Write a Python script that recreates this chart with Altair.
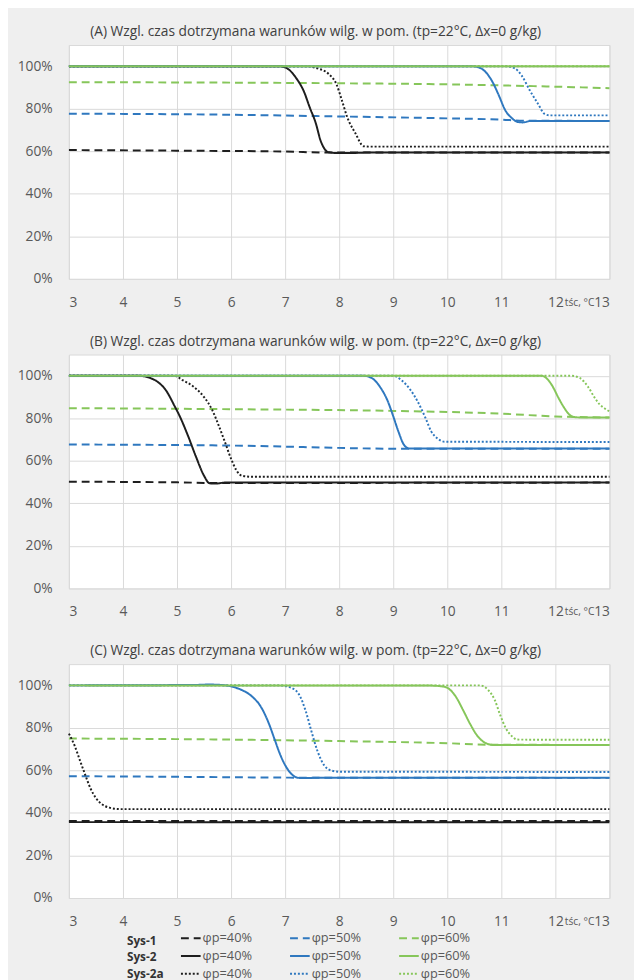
import altair as alt
import pandas as pd

# ---------------- data ----------------
X_TICKS = [3, 4, 5, 6, 7, 8, 9, 10, 11, 12, 13]
Y_TICKS = [0, 0.2, 0.4, 0.6, 0.8, 1.0]

PANEL_TITLES = [
    "(A) Wzgl. czas dotrzymana warunków wilg. w pom. (tp=22°C, Δx=0 g/kg)",
    "(B) Wzgl. czas dotrzymana warunków wilg. w pom. (tp=22°C, Δx=0 g/kg)",
    "(C) Wzgl. czas dotrzymana warunków wilg. w pom. (tp=22°C, Δx=0 g/kg)",
]
X_TITLE = "tśc, °C"

# legend order (filled column by column: Sys-1/Sys-2/Sys-2a for each φp)
SERIES_KEYS = ["S1-40", "S2-40", "S2a-40", "S1-50", "S2-50", "S2a-50", "S1-60", "S2-60", "S2a-60"]
SERIES_COLORS = ["#1e1e1e"] * 3 + ["#2f78bf"] * 3 + ["#86c65a"] * 3
SERIES_DASH = [[8, 5], [1, 0], [2, 2]] * 3
ROW_LABELS = ["Sys-1", "Sys-2", "Sys-2a"]

# (x = tśc in °C, y = % of time)
A_S1_40 = [(3, 60.6), (5, 60.3), (7, 59.9), (7.8, 59.4), (13, 59.4)]
A_S1_50 = [(3, 77.7), (6, 77.2), (8, 76.4), (10, 75.5), (11, 74.9), (11.4, 74.4), (13, 74.3)]
A_S1_60 = [(3, 92.5), (6, 92.3), (8, 92.0), (10, 91.5), (11, 91.0), (12, 90.4), (13, 89.7)]
A_S2_40 = [(3, 100), (6.9, 100), (7.05, 98.8), (7.2, 94.6), (7.35, 88), (7.45, 81), (7.57, 73),
           (7.65, 65.5), (7.72, 61.5), (7.8, 59.6), (7.95, 59.2), (8.2, 59.2), (8.5, 59.4), (13, 59.4)]
A_S2_50 = [(3, 100), (10.45, 100), (10.6, 99.3), (10.72, 97), (10.85, 92), (10.95, 86.5), (11.08, 79),
           (11.2, 75.5), (11.3, 73.8), (11.4, 73.6), (11.55, 74.3), (13, 74.3)]
A_S2_60 = [(3, 100), (13, 100)]
A_S2a_40 = [(3, 100), (7.4, 100), (7.6, 99), (7.8, 96.5), (7.95, 91.5), (8.05, 84), (8.15, 76),
            (8.3, 68.5), (8.45, 62.4), (8.55, 62.2), (13, 62.2)]
A_S2a_50 = [(3, 100), (11.1, 100), (11.25, 99), (11.38, 95.5), (11.53, 88.5), (11.68, 82.3),
            (11.8, 77.6), (11.9, 76.9), (13, 76.9)]
A_S2a_60 = [(3, 100), (13, 100)]

B_S1_40 = [(3, 50.2), (5, 49.9), (5.7, 49.6), (13, 49.8)]
B_S1_50 = [(3, 67.7), (6, 67.2), (9.2, 65.7), (13, 65.7)]
B_S1_60 = [(3, 84.8), (6, 84.3), (9, 83.5), (11, 82.2), (12, 80.9), (13, 80.4)]
B_S2_40 = [(3, 100), (4.3, 100), (4.5, 99), (4.65, 97), (4.8, 93), (4.95, 86), (5.05, 81), (5.2, 72),
           (5.35, 62), (5.5, 53), (5.6, 49.5), (5.7, 49.3), (5.9, 49.8), (13, 49.8)]
B_S2_50 = [(3, 100), (8.45, 100), (8.6, 99), (8.75, 95), (8.9, 88), (9.0, 81), (9.1, 73.5), (9.2, 67.5),
           (9.3, 65.8), (13, 65.8)]
B_S2_60 = [(3, 100), (11.75, 100), (11.85, 98.5), (11.95, 95), (12.05, 90), (12.15, 85.5), (12.25, 82),
           (12.35, 80.6), (12.5, 80.4), (13, 80.4)]
B_S2a_40 = [(3, 100), (4.95, 100), (5.1, 98), (5.3, 95), (5.5, 90), (5.65, 84), (5.75, 78), (5.87, 70),
            (6.0, 61), (6.1, 55.5), (6.2, 53), (6.4, 52.5), (13, 52.5)]
B_S2a_50 = [(3, 100), (9.0, 100), (9.15, 98), (9.3, 94), (9.45, 88), (9.6, 80), (9.7, 74), (9.82, 70.5),
            (9.95, 69), (13, 68.9)]
B_S2a_60 = [(3, 100), (12.3, 100), (12.45, 99), (12.6, 95), (12.72, 90), (12.82, 86.5), (12.92, 84.5),
            (13, 83.3)]

C_S1_40 = [(3, 36.2), (13, 36.2)]
C_S1_50 = [(3, 57.3), (5, 57.0), (7.3, 56.6), (13, 56.5)]
C_S1_60 = [(3, 75.0), (6, 74.5), (8, 73.8), (10, 72.8), (10.8, 72.1), (13, 72.0)]
C_S2_40 = [(3, 35.7), (13, 35.6)]
C_S2_50 = [(3, 100), (5.3, 100.2), (5.6, 100.4), (5.9, 100), (6.05, 99.2), (6.2, 97.8), (6.4, 94.5),
           (6.55, 90), (6.7, 82), (6.8, 75), (6.9, 68), (7.0, 62.5), (7.1, 58.8), (7.25, 56.5), (7.4, 56.4),
           (7.6, 56.6), (13, 56.6)]
C_S2_60 = [(3, 100), (9.7, 99.9), (9.95, 99.3), (10.05, 98), (10.15, 95), (10.3, 88), (10.42, 82),
           (10.55, 76.5), (10.7, 73), (10.85, 72), (13, 72)]
C_S2a_40 = [(3, 77.3), (3.1, 72), (3.2, 65), (3.3, 58), (3.4, 51.5), (3.5, 47), (3.6, 44.3), (3.75, 42.5),
            (3.95, 41.8), (13, 41.8)]
C_S2a_50 = [(3, 100), (6.9, 100), (7.1, 99), (7.25, 96), (7.38, 88), (7.48, 79), (7.6, 69), (7.72, 62.5),
            (7.85, 60), (8.0, 59.4), (13, 59.3)]
C_S2a_60 = [(3, 100), (10.6, 100), (10.75, 98), (10.88, 93), (10.98, 86), (11.08, 80), (11.2, 76),
            (11.3, 74.5), (13, 74.4)]

PANELS = [
    {"S1-40": A_S1_40, "S1-50": A_S1_50, "S1-60": A_S1_60, "S2a-40": A_S2a_40, "S2a-50": A_S2a_50,
     "S2a-60": A_S2a_60, "S2-40": A_S2_40, "S2-50": A_S2_50, "S2-60": A_S2_60},
    {"S1-40": B_S1_40, "S1-50": B_S1_50, "S1-60": B_S1_60, "S2a-40": B_S2a_40, "S2a-50": B_S2a_50,
     "S2a-60": B_S2a_60, "S2-40": B_S2_40, "S2-50": B_S2_50, "S2-60": B_S2_60},
    {"S1-40": C_S1_40, "S1-50": C_S1_50, "S1-60": C_S1_60, "S2a-40": C_S2a_40, "S2a-50": C_S2a_50,
     "S2a-60": C_S2a_60, "S2-40": C_S2_40, "S2-50": C_S2_50, "S2-60": C_S2_60},
]

# ---------------- style ----------------
FONT = "Open Sans"
TEXT = "#595959"
GRID = "#d9d9d9"
BG = "#efefef"
W, H = 550, 238


def make_legend():
    return alt.Legend(orient="none", legendX=113, legendY=898, columns=3,
                      symbolType="stroke", symbolSize=400, symbolStrokeWidth=2,
                      labelFont=FONT, labelFontSize=13, labelColor=TEXT,
                      labelOffset=1, columnPadding=34, rowPadding=0,
                      labelExpr="'φp=' + split(datum.label, '-')[1] + '%'")


def panel(idx):
    rows = []
    for key, pts in PANELS[idx].items():
        for i, (x, y) in enumerate(pts):
            rows.append({"key": key, "x": x, "y": y / 100.0, "order": i})
    df = pd.DataFrame(rows)
    xaxis = alt.Axis(values=X_TICKS, format="d", grid=True, gridColor=GRID, domain=False, ticks=False,
                     labelPadding=17, labelFontSize=14, title=X_TITLE, titleFontSize=10.5,
                     titleFontWeight="normal", titleColor=TEXT, titleFont=FONT,
                     titleAlign="left", titleBaseline="middle", titleX=504, titleY=24)
    yaxis = alt.Axis(values=Y_TICKS, format=".0%", grid=True, gridColor=GRID, domain=False, ticks=False,
                     labelPadding=17, labelFontSize=14, title=None)
    lines = alt.Chart(df).mark_line(strokeWidth=2, interpolate="monotone").encode(
        x=alt.X("x:Q", scale=alt.Scale(domain=[3, 13], nice=False), axis=xaxis),
        y=alt.Y("y:Q", scale=alt.Scale(domain=[0, 1.1], nice=False), axis=yaxis),
        color=alt.Color("key:N", scale=alt.Scale(domain=SERIES_KEYS, range=SERIES_COLORS),
                        title=None, legend=make_legend()),
        strokeDash=alt.StrokeDash("key:N", scale=alt.Scale(domain=SERIES_KEYS, range=SERIES_DASH),
                                  title=None, legend=make_legend()),
        order="order:Q",
    )
    layers = [lines]
    if idx == 2:
        for r, lab in enumerate(ROW_LABELS):
            layers.append(
                alt.Chart(pd.DataFrame({"t": [lab]})).mark_text(
                    align="left", baseline="middle", font=FONT, fontSize=12, fontWeight="bold",
                    color="#333333"
                ).encode(text="t:N", x=alt.value(59), y=alt.value(H + 44 + r * 16.5))
            )
    return alt.layer(*layers).properties(
        width=W, height=H,
        title=alt.TitleParams(PANEL_TITLES[idx], font=FONT, fontSize=14, fontWeight="normal",
                              color="#404040", anchor="middle", dx=-24, offset=6),
    )


chart = alt.vconcat(panel(0), panel(1), panel(2), spacing=24).properties(
    background=BG,
    padding={"left": 8, "top": 8, "right": 20, "bottom": 4},
).configure_view(stroke=GRID, fill="white").configure_axis(
    labelFont=FONT, labelColor=TEXT
)

chart.save("out.html", embed_options={"renderer": "svg", "actions": False})
